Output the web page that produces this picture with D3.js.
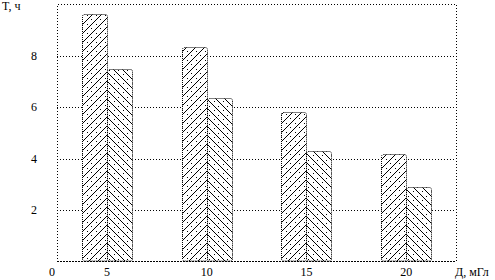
<!DOCTYPE html>
<html><head><meta charset="utf-8">
<script src="https://cdn.jsdelivr.net/npm/d3@7"></script>
<style>body{margin:0;background:#fff}svg{display:block}text{font-family:"Liberation Serif","DejaVu Serif",serif;font-size:12px;fill:#000}</style>
</head><body>
<script>
const doses = ["5","10","15","20"];
const seriesA = [9.6, 8.35, 5.8, 4.2];
const seriesB = [7.5, 6.35, 4.3, 2.9];
const yTicks = [2,4,6,8];
const yLabel = "T, ч";
const xLabel = "Д, мГл";

const W=495,H=280;
const svg=d3.select("body").append("svg").attr("width",W).attr("height",H);
const x=d3.scaleBand().domain(doses).range([57,456]).padding(0);
const y=d3.scaleLinear().domain([0,10]).range([262,4]);
const bw=x.bandwidth()/4;
const P=9;
const defs=svg.append("defs");
doses.forEach((d,i)=>{
  const cx=Math.round(x(d)+x.bandwidth()/2);
  const pa=defs.append("pattern").attr("id","pa"+i).attr("patternUnits","userSpaceOnUse")
    .attr("width",P).attr("height",P).attr("patternTransform",`translate(${cx},0)`);
  pa.append("rect").attr("width",P).attr("height",P).attr("fill","#fff");
  pa.append("path").attr("d",`M-1,${P+1}L${P+1},-1M-1,1L1,-1M${P-1},${P+1}L${P+1},${P-1}`).attr("stroke","#000").attr("stroke-width",1).attr("shape-rendering","crispEdges");
  pa.append("path").attr("d",`M-1,${P/2+1}L${P/2+1},-1M${P/2-1},${P+1}L${P+1},${P/2-1}`).attr("stroke","#000").attr("stroke-width",1).attr("stroke-dasharray","1,4").attr("shape-rendering","crispEdges");
  const pb=defs.append("pattern").attr("id","pb"+i).attr("patternUnits","userSpaceOnUse")
    .attr("width",P).attr("height",P).attr("patternTransform",`translate(${cx},0)`);
  pb.append("rect").attr("width",P).attr("height",P).attr("fill","#fff");
  pb.append("path").attr("d",`M-1,-1L${P+1},${P+1}M-1,${P-1}L1,${P+1}M${P-1},-1L${P+1},1`).attr("stroke","#000").attr("stroke-width",1).attr("shape-rendering","crispEdges");
  pb.append("path").attr("d",`M-1,${P/2-1}L${P/2+1},${P+1}M${P/2-1},-1L${P+1},${P/2+1}`).attr("stroke","#000").attr("stroke-width",1).attr("stroke-dasharray","1,4").attr("shape-rendering","crispEdges");
});

const dot={"stroke":"#000","stroke-width":1,"stroke-dasharray":"1,2","fill":"none","shape-rendering":"crispEdges"};
function ap(s,o){for(const k in o)s.attr(k,o[k]);return s;}
// frame
ap(svg.append("path").attr("d",`M${x.range()[0]+0.5},${y(0)}V${y(10)+0.5}H${x.range()[1]+0.5}V${y(0)}`),dot);
// grid
yTicks.forEach(t=>{
  ap(svg.append("line").attr("x1",x.range()[0]).attr("x2",x.range()[1]).attr("y1",Math.round(y(t))+0.5).attr("y2",Math.round(y(t))+0.5),dot);
});
// x axis line
svg.append("line").attr("x1",x.range()[0]).attr("x2",x.range()[1]).attr("y1",y(0)-0.5).attr("y2",y(0)-0.5)
  .attr("stroke","#000").attr("stroke-dasharray","2,1").attr("shape-rendering","crispEdges");

// bars
const g=svg.append("g");
doses.forEach((d,i)=>{
  const cx=Math.round(x(d)+x.bandwidth()/2);
  [[seriesA[i],cx-Math.round(bw),"pa"],[seriesB[i],cx,"pb"]].forEach(([v,bx,p])=>{
    g.append("rect").attr("x",bx+0.5).attr("y",Math.round(y(v))+0.5)
      .attr("width",Math.round(bw)).attr("height",y(0)-Math.round(y(v))-1.5).attr("rx",2)
      .attr("fill",`url(#${p}${i})`).attr("stroke","#000").attr("stroke-width",1).attr("stroke-dasharray","1,1");
  });
});

// labels
yTicks.forEach(t=>{
  svg.append("text").attr("x",34).attr("y",y(t)+4).attr("text-anchor","middle").text(t);
});
svg.append("text").attr("x",52).attr("y",276).attr("text-anchor","middle").text("0");
doses.forEach(d=>{
  svg.append("text").attr("x",x(d)+x.bandwidth()/2).attr("y",276).attr("text-anchor","middle").text(d);
});
svg.append("text").attr("x",2).attr("y",10).attr("font-size","11px").text(yLabel);
svg.append("text").attr("x",455).attr("y",276).attr("font-size","11px").text(xLabel);
</script>
</body></html>
